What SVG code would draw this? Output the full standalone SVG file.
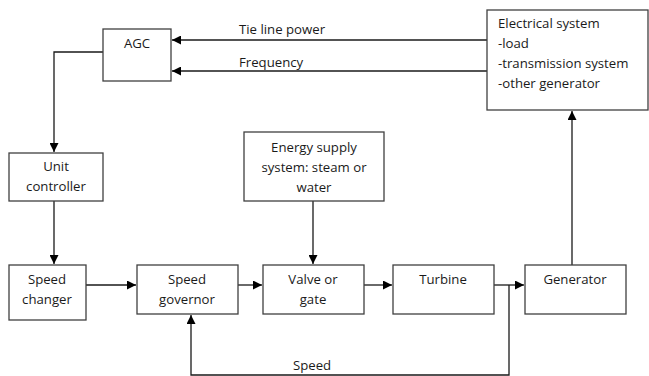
<svg xmlns="http://www.w3.org/2000/svg" width="649" height="376" viewBox="0 0 649 376">
<style>
.box{fill:#fff;stroke:#404040;stroke-width:1.3}
.ln{fill:none;stroke:#1a1a1a;stroke-width:1.3}
text{font-family:"Open Sans","Noto Sans",sans-serif;font-size:13.2px;fill:#1a1a1a}
.c{text-anchor:middle}
</style>
<defs>
<marker id="ah" viewBox="0 0 10 10" refX="10" refY="5" markerWidth="9" markerHeight="9" markerUnits="userSpaceOnUse" orient="auto">
<path d="M0,0 L10,5 L0,10 z" fill="#000"/>
</marker>
</defs>
<rect width="649" height="376" fill="#fff"/>
<g id="connectors">
<line class="ln" x1="487" y1="40" x2="172" y2="40" marker-end="url(#ah)"/>
<line class="ln" x1="487" y1="71" x2="172" y2="71" marker-end="url(#ah)"/>
<polyline class="ln" points="103,52 54,52 54,152" marker-end="url(#ah)"/>
<line class="ln" x1="54" y1="201" x2="54" y2="264" marker-end="url(#ah)"/>
<line class="ln" x1="86" y1="285" x2="136" y2="285" marker-end="url(#ah)"/>
<line class="ln" x1="238" y1="285" x2="262" y2="285" marker-end="url(#ah)"/>
<line class="ln" x1="313" y1="201" x2="313" y2="264" marker-end="url(#ah)"/>
<line class="ln" x1="361" y1="285" x2="392" y2="285" marker-end="url(#ah)"/>
<line class="ln" x1="494" y1="285" x2="524" y2="285" marker-end="url(#ah)"/>
<polyline class="ln" points="509,285 509,375 191,375 191,315" marker-end="url(#ah)"/>
<line class="ln" x1="572" y1="265" x2="572" y2="111" marker-end="url(#ah)"/>
<text x="239" y="34">Tie line power</text>
<text x="239" y="67">Frequency</text>
<text x="293" y="370">Speed</text>
</g>
<g id="agc">
<rect class="box" x="103" y="29" width="68" height="52"/>
<text class="c" x="137" y="48">AGC</text>
</g>
<g id="electrical">
<rect class="box" x="487" y="10" width="161" height="100"/>
<text x="498" y="28">Electrical system</text>
<text x="498" y="48">-load</text>
<text x="498" y="68">-transmission system</text>
<text x="498" y="88">-other generator</text>
</g>
<g id="unit">
<rect class="box" x="9" y="153" width="94" height="48"/>
<text class="c" x="56" y="171">Unit</text>
<text class="c" x="56" y="191">controller</text>
</g>
<g id="energy">
<rect class="box" x="244" y="132" width="140" height="69"/>
<text class="c" x="314" y="152">Energy supply</text>
<text class="c" x="314" y="172">system: steam or</text>
<text class="c" x="314" y="192">water</text>
</g>
<g id="changer">
<rect class="box" x="9" y="265" width="77" height="55"/>
<text class="c" x="47" y="284">Speed</text>
<text class="c" x="47" y="304">changer</text>
</g>
<g id="governor">
<rect class="box" x="137" y="265" width="101" height="49"/>
<text class="c" x="187" y="284">Speed</text>
<text class="c" x="187" y="304">governor</text>
</g>
<g id="valve">
<rect class="box" x="263" y="265" width="101" height="49"/>
<text class="c" x="313" y="284">Valve or</text>
<text class="c" x="313" y="304">gate</text>
</g>
<g id="turbine">
<rect class="box" x="393" y="265" width="101" height="49"/>
<text class="c" x="443" y="284">Turbine</text>
</g>
<g id="generator">
<rect class="box" x="525" y="265" width="101" height="49"/>
<text class="c" x="575" y="284">Generator</text>
</g>
</svg>
